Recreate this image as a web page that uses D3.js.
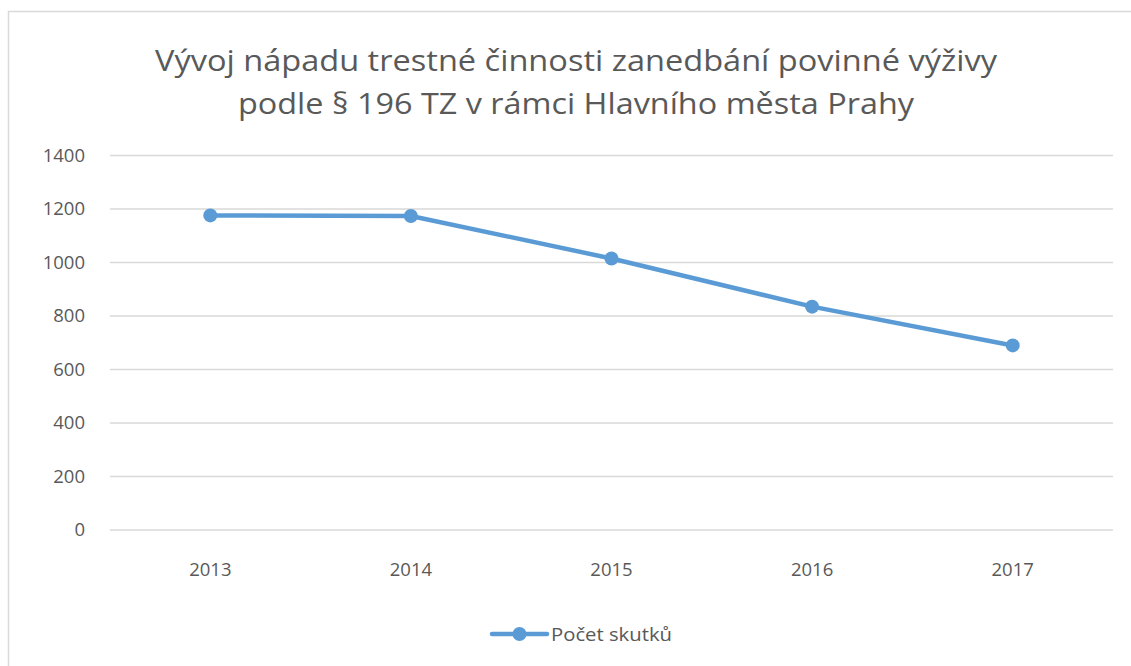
<!DOCTYPE html>
<html>
<head>
<meta charset="utf-8">
<script src="https://cdn.jsdelivr.net/npm/d3@7"></script>
<style>
  body { margin: 0; background: #fff; }
  text { font-family: "Open Sans", "Noto Sans", sans-serif; fill: #595959; }
</style>
</head>
<body>
<script>
var years = ["2013", "2014", "2015", "2016", "2017"];
var counts = [1176, 1174, 1015, 835, 690];
var yTicks = [0, 200, 400, 600, 800, 1000, 1200, 1400];
var titleLines = ["Vývoj nápadu trestné činnosti zanedbání povinné výživy",
                  "podle § 196 TZ v rámci Hlavního města Prahy"];
var seriesName = "Počet skutků";

var svgWidth = 1131;
var svgHeight = 666;
var lineColor = "#5B9BD5";
var fontStack = "\"Open Sans\", \"Noto Sans\", sans-serif";

var svg = d3.select("body")
    .append("svg")
    .attr("width", svgWidth)
    .attr("height", svgHeight);

// chart frame
svg.append("rect")
    .attr("x", 8.5)
    .attr("y", 11.5)
    .attr("width", 1140)
    .attr("height", 700)
    .attr("fill", "#fff")
    .attr("stroke", "#d9d9d9")
    .attr("stroke-width", 1.5);

// title
var titleGroup = svg.append("g");
titleLines.forEach((t, i) => {
    titleGroup.append("text")
        .attr("x", 576)
        .attr("y", 71 + i * 43)
        .attr("text-anchor", "middle")
        .style("font-size", "30px")
        .attr("textLength", i == 0 ? 842 : 676)
        .attr("lengthAdjust", "spacingAndGlyphs")
        .text(t);
});

var plot = { left: 110, right: 1113, top: 155.5, bottom: 530 };

var xScale = d3.scaleBand()
    .domain(years)
    .range([plot.left, plot.right]);

var yScale = d3.scaleLinear()
    .domain([0, 1400])
    .range([plot.bottom, plot.top]);

// gridlines
svg.append("g")
    .selectAll("line")
    .data(yTicks)
    .enter()
    .append("line")
    .attr("x1", plot.left)
    .attr("x2", plot.right)
    .attr("y1", d => yScale(d))
    .attr("y2", d => yScale(d))
    .attr("stroke", "#d9d9d9")
    .attr("stroke-width", 1.3);

// y axis labels
var leftAxis = d3.axisLeft(yScale)
    .tickValues(yTicks)
    .tickFormat(d3.format("d"))
    .tickSize(0)
    .tickPadding(25);
var yAxisGroup = svg.append("g")
    .attr("transform", `translate(${plot.left}, 0)`)
    .call(leftAxis);
yAxisGroup.select(".domain").remove();
yAxisGroup.selectAll("text")
    .style("font-size", "18.5px")
    .style("font-family", fontStack)
    .attr("fill", "#595959");

// x axis labels
var bottomAxis = d3.axisBottom(xScale).tickSize(0);
var xAxisGroup = svg.append("g")
    .attr("transform", `translate(0, ${plot.bottom})`)
    .call(bottomAxis);
xAxisGroup.select(".domain").remove();
xAxisGroup.selectAll("text")
    .attr("y", 46)
    .attr("dy", 0)
    .style("font-size", "18.5px")
    .style("font-family", fontStack)
    .attr("fill", "#595959");

// line
var lineGen = d3.line()
    .x((d, i) => xScale(years[i]) + xScale.bandwidth() / 2)
    .y(d => yScale(d));

svg.append("path")
    .datum(counts)
    .attr("d", lineGen)
    .attr("fill", "none")
    .attr("stroke", lineColor)
    .attr("stroke-width", 4.5)
    .attr("stroke-linejoin", "round");

svg.append("g")
    .selectAll("circle")
    .data(counts)
    .enter()
    .append("circle")
    .attr("cx", (d, i) => xScale(years[i]) + xScale.bandwidth() / 2)
    .attr("cy", d => yScale(d))
    .attr("r", 7)
    .attr("fill", lineColor);

// legend
var legend = svg.append("g").attr("transform", "translate(492, 634)");
legend.append("line")
    .attr("x1", 0).attr("x2", 55)
    .attr("stroke", lineColor)
    .attr("stroke-width", 4.5)
    .attr("stroke-linecap", "round");
legend.append("circle")
    .attr("cx", 27.5)
    .attr("r", 7)
    .attr("fill", lineColor);
legend.append("text")
    .attr("x", 59)
    .attr("y", 6.5)
    .style("font-size", "18.5px")
    .attr("textLength", 121)
    .attr("lengthAdjust", "spacingAndGlyphs")
    .text(seriesName);
</script>
</body>
</html>
